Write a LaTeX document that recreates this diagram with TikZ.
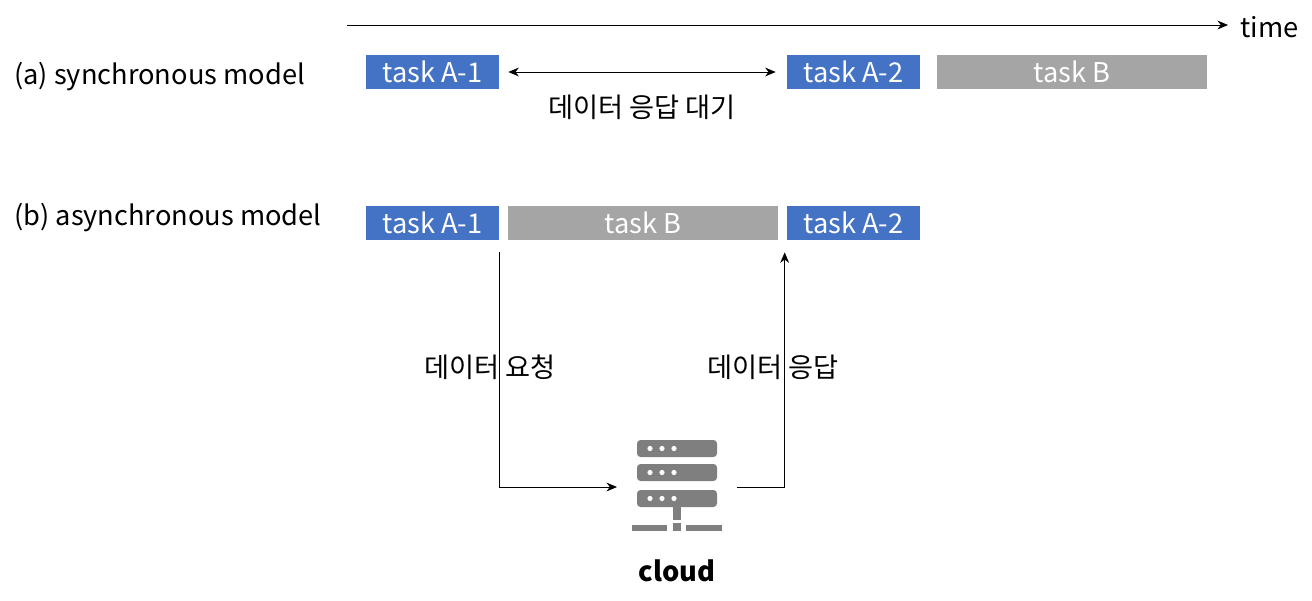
\documentclass[tikz,border=0pt]{standalone}
\usepackage{fontspec}
\setmainfont{Noto Sans CJK KR}
\usetikzlibrary{positioning}
\definecolor{taskblue}{HTML}{4472C4}
\definecolor{taskgray}{HTML}{A5A5A5}
\definecolor{icongray}{HTML}{7F7F7F}
\tikzset{
  task/.style={fill=#1, text=white, minimum height=0.68cm, inner sep=0pt, font=\fontsize{15.5}{15.5}\selectfont},
  lbl/.style={font=\fontsize{15.5}{15.5}\selectfont, inner sep=0pt},
  flow/.style={-{Stealth[length=6pt, width=5pt]}, thin}
}
\usetikzlibrary{arrows.meta}
\begin{document}
\begin{tikzpicture}[x=0.02cm, y=-0.02cm]
    \useasboundingbox (0, 0) rectangle (1312, 600);

    % Time axis
    \coordinate (t0) at (347, 25);
    \coordinate (t1) at (1228, 25);
    \draw [flow] (t0) -- (t1);
    \node [lbl, anchor=west] (time) at (1240, 27) {time};

    % (a) synchronous model
    \node [lbl, anchor=west] (la) at (14, 77) {(a) synchronous model};
    \node [task=taskblue, minimum width=2.66cm] (a1) at (432.5, 72) {task A-1};
    \node [task=taskblue, minimum width=2.66cm] (a2) at (853.5, 72) {task A-2};
    \node [task=taskgray, minimum width=5.4cm] (ab) at (1072, 72) {task B};
    \draw [{Stealth[length=6pt, width=5pt]}-{Stealth[length=6pt, width=5pt]}, thin]
          ([xshift=0.18cm]a1.east) -- ([xshift=-0.22cm]a2.west)
          node [lbl, midway, below=0.45cm] (wait) {데이터 응답 대기};

    % (b) asynchronous model
    \node [lbl, anchor=west] (lb) at (14, 218) {(b) asynchronous model};
    \node [task=taskblue, minimum width=2.66cm] (b1) at (432.5, 223) {task A-1};
    \node [task=taskgray, minimum width=5.4cm] (bb) at (643, 223) {task B};
    \node [task=taskblue, minimum width=2.66cm] (b2) at (853.5, 223) {task A-2};

    % Cloud server icon
    \begin{scope}[fill=icongray]
      \foreach \y in {440, 464, 490} {
        \fill [rounded corners=2pt] (637, \y) rectangle (717, \y+17);
        \foreach \x in {650, 662, 674}
          \fill [white] (\x, \y+8.5) circle [radius=2.6];
      }
      \fill (673, 505) rectangle (681, 520);
      \fill (632, 525) rectangle (667, 531);
      \fill (673, 523) rectangle (681, 531);
      \fill (686, 525) rectangle (722, 531);
    \end{scope}
    \coordinate (cin) at (617, 487);
    \coordinate (cout) at (737, 487);
    \node [lbl, font=\fontsize{15.5}{15.5}\selectfont\bfseries] (cloud) at (677, 571) {cloud};

    % Request / response
    \draw [flow] ([yshift=-0.24cm]b1.south east) |- (cin);
    \draw [flow] (cout) -| ([xshift=-0.04cm, yshift=-0.24cm]b2.south west);
    \node [lbl] (req) at (490, 367) {데이터 요청};
    \node [lbl] (resp) at (773, 367) {데이터 응답};
\end{tikzpicture}
\end{document}
